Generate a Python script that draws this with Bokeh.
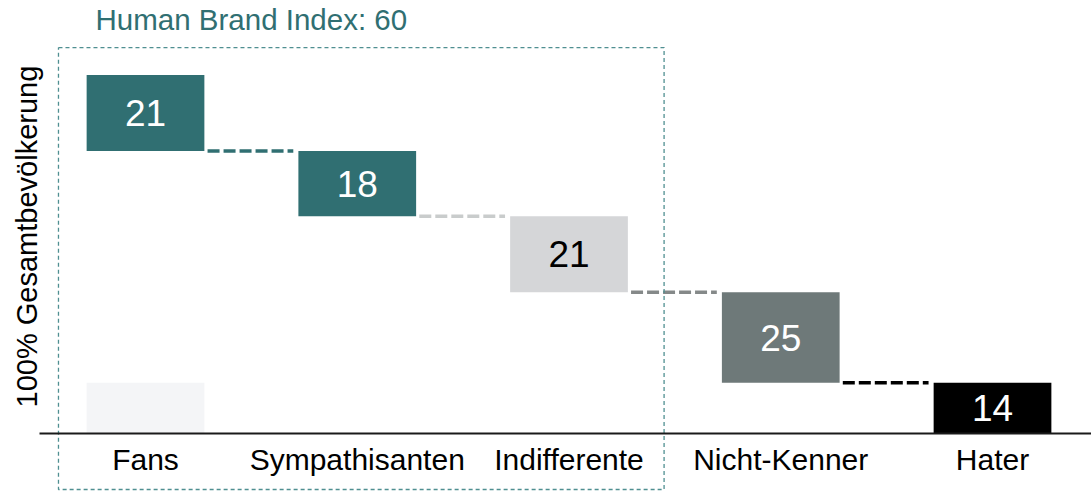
from bokeh.plotting import figure
from bokeh.models import Range1d, FixedTicker, ColumnDataSource
from bokeh.core.properties import value
from bokeh.embed import file_html
from bokeh.resources import INLINE
import math

# ---- data ----
categories = ["Fans", "Sympathisanten", "Indifferente", "Nicht-Kenner", "Hater"]
shares = [21, 18, 21, 25, 14]
bar_colors = ["#306f72", "#306f72", "#d5d6d8", "#6e7979", "#000000"]
text_colors = ["#ffffff", "#ffffff", "#000000", "#ffffff", "#ffffff"]
connector_colors = ["#306f72", "#c9cccc", "#858989", "#000000"]
title_text = "Human Brand Index: 60"
y_label = "100% Gesamtbevölkerung"
index_groups = 3  # Fans, Sympathisanten, Indifferente
FONT = "Liberation Sans"

# waterfall positions (stacked from bottom, first category on top)
n = len(categories)
xs = list(range(n))
tops, bottoms = [], []
running = sum(shares)
for s in shares:
    tops.append(running)
    bottoms.append(running - s)
    running -= s
mids = [(t + b) / 2 for t, b in zip(tops, bottoms)]

p = figure(width=1091, height=491, output_backend="svg", toolbar_location=None,
           x_range=Range1d(-0.6848, 4.4675), y_range=Range1d(-16.02, 119.6),
           x_axis_location="below", y_axis_location=None,
           min_border=0, min_border_left=0, min_border_right=0,
           min_border_top=0, min_border_bottom=0)
p.outline_line_color = None
p.xgrid.visible = False
p.ygrid.visible = False
p.background_fill_color = "white"

bw = 0.556
# faint ghost bar under Fans (size of Hater)
p.vbar(x=[xs[0]], top=[shares[-1]], bottom=[0], width=bw,
       fill_color="#f4f5f7", line_color=None)

src = ColumnDataSource(dict(x=xs, top=tops, bottom=bottoms, color=bar_colors,
                            mid=mids, label=[str(s) for s in shares], tc=text_colors))
p.vbar(x="x", top="top", bottom="bottom", width=bw, fill_color="color",
       line_color=None, source=src)
p.text(x="x", y="mid", text="label", text_color="tc", source=src,
       text_font=value(FONT), text_font_size="37px",
       text_align="center", text_baseline="middle")

# dashed connectors
for i in range(n - 1):
    p.segment(x0=[xs[i] + 0.293], y0=[bottoms[i]], x1=[xs[i + 1] - 0.302], y1=[bottoms[i]],
              line_color=connector_colors[i], line_width=3.5, line_dash="12 4")

# dashed box around index groups
box_left = xs[0] - 0.411
box_right = xs[index_groups - 1] + 0.449
box_top = 106.6
box_bottom = -15.47
p.line(x=[box_left, box_right, box_right, box_left, box_left],
       y=[box_top, box_top, box_bottom, box_bottom, box_top],
       line_color="#4f8f91", line_width=1.3, line_dash="4 3")

# title text
p.text(x=[xs[0] - 0.236], y=[114.3], text=[title_text], text_color="#306f72",
       text_font=value(FONT), text_font_size="29.5px",
       text_align="left", text_baseline="middle")

# y label
p.text(x=[xs[0] - 0.562], y=[54.4], text=[y_label], angle=math.pi / 2,
       text_color="#000000", text_font=value(FONT), text_font_size="29px",
       text_align="center", text_baseline="middle")

# x axis as baseline
ax = p.xaxis[0]
ax.fixed_location = 0
ax.bounds = (-0.5006, 4.4675)
ax.ticker = FixedTicker(ticks=xs)
ax.major_label_overrides = {i: c for i, c in zip(xs, categories)}
ax.major_tick_line_color = None
ax.minor_tick_line_color = None
ax.major_tick_in = 0
ax.major_tick_out = 0
ax.axis_line_color = "#1a1a1a"
ax.axis_line_width = 2
ax.major_label_standoff = 9
ax.major_label_text_font = FONT
ax.major_label_text_font_size = "30px"
ax.major_label_text_color = "#000000"

open("out.html", "w").write(file_html(p, INLINE))
